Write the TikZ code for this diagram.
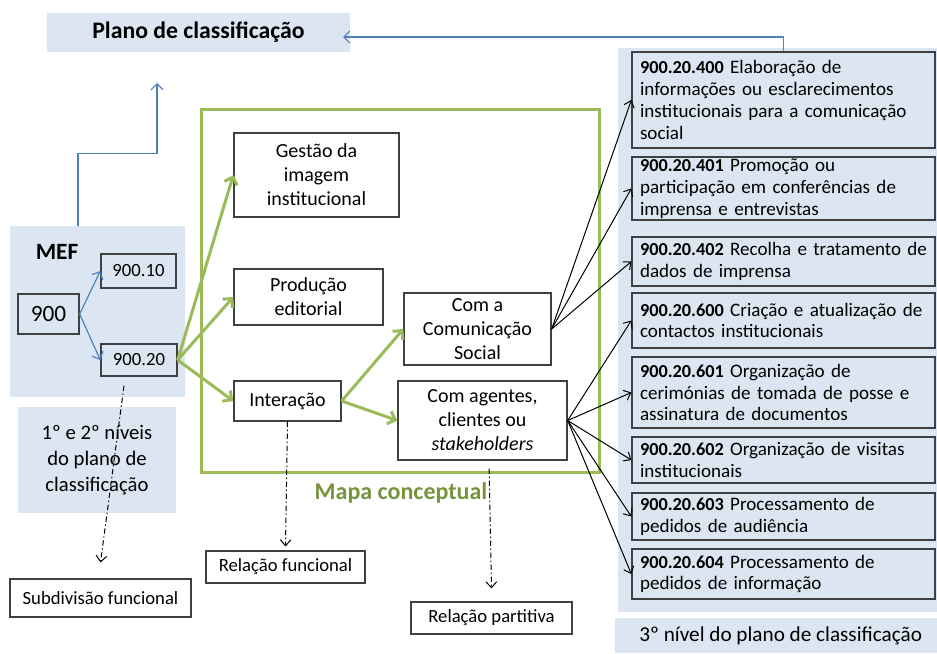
\documentclass[tikz,border=0pt]{standalone}
\usepackage{fontspec}
\setmainfont{Carlito}
\usepackage{tikz}
\usetikzlibrary{arrows.meta,calc,positioning}
\definecolor{paleblue}{HTML}{DCE6F2}
\definecolor{concgreen}{HTML}{9BBB59}
\definecolor{textgreen}{HTML}{77933C}
\definecolor{linkblue}{HTML}{4F81BD}
\definecolor{boxgray}{HTML}{404040}
\newcommand\classno[1]{{\fontsize{13.7}{16.3}\selectfont\bfseries #1}}
\tikzset{
  panel/.style={fill=paleblue, draw=none, inner sep=0pt},
  box/.style={draw=boxgray, line width=1pt, align=center, inner sep=0pt,
    font=\fontsize{15}{18}\selectfont},
  codebox/.style={draw=boxgray, line width=1pt, align=left, text width=215.25pt,
    inner xsep=6pt, inner ysep=0pt, font=\fontsize{14.3}{16.3}\selectfont},
  labelbox/.style={draw=boxgray, line width=0.8pt, inner sep=0pt,
    font=\fontsize{14}{16}\selectfont},
  greenarr/.style={draw=concgreen, line width=2.25pt, -{Straight Barb[length=5pt,width=10pt]}},
  bluearr/.style={draw=linkblue, line width=0.9pt, -{Straight Barb[length=4.5pt,width=9pt]}},
  blackarr/.style={line width=0.75pt, -{Straight Barb[length=4.5pt,width=8pt]}},
  dashdot/.style={line width=0.75pt, dash pattern=on 4pt off 2pt on 1pt off 2pt,
    -{Straight Barb[length=4.5pt,width=8pt]}},
}
\begin{document}
\begin{tikzpicture}[x=0.75pt, y=-0.75pt]
\useasboundingbox (0,0) rectangle (937,653);
% --- fundos ---
\node[panel, minimum width=227.25pt, minimum height=29.25pt,
  font=\fontsize{17.8}{20}\selectfont\bfseries] (plano) at (198.5,32.5) {Plano de classificação};
\node[panel, minimum width=131.25pt, minimum height=128.25pt] (mef) at (97.5,311.5) {};
\node[panel, minimum width=118.5pt, minimum height=79.5pt, align=center,
  font=\fontsize{15.5}{19.5}\selectfont] (niveis) at (97,460) {1º e 2º níveis\\do plano de\\classificação};
\fill[paleblue] (618,48) rectangle (937,612);
\node[panel, minimum width=241.5pt, minimum height=26.25pt,
  font=\fontsize{15.9}{18}\selectfont] (nivel3) at (776,635.5) {\hspace{7pt}3º nível do plano de classificação};

% --- MEF ---
\node[font=\fontsize{17.5}{20}\selectfont\bfseries] (meflab) at (57,252) {MEF};
\node[box, minimum width=45.75pt, minimum height=30pt, font=\fontsize{17.5}{20}\selectfont] (n900) at (48.5,314) {900};
\node[box, minimum width=56.25pt, minimum height=25.5pt, font=\fontsize{14}{16}\selectfont] (n9010) at (138.5,271) {900.10};
\node[box, minimum width=57pt, minimum height=24pt, font=\fontsize{14}{16}\selectfont] (n9020) at (139,360) {900.20};
\draw[bluearr] (n900.east) -- (n9010.west);
\draw[bluearr] (n900.east) -- (n9020.west);

% --- mapa conceptual ---
\node[draw=concgreen, line width=2.25pt, minimum width=298.5pt, minimum height=272.25pt] (frame) at (400,290.5) {};
\node[text=textgreen, font=\fontsize{18}{20}\selectfont\bfseries] (mapa) at (401,493) {Mapa conceptual};
\node[box, minimum width=123.75pt, minimum height=63pt] (gestao) at (316.5,175) {Gestão da\\imagem\\institucional};
\node[box, minimum width=111.75pt, minimum height=42pt] (producao) at (308.5,297) {Produção\\editorial};
\node[box, minimum width=80.25pt, minimum height=30pt] (interacao) at (287.5,401) {Interação};
\node[box, minimum width=110.25pt, minimum height=54pt] (comsocial) at (477.5,329) {Com a\\Comunicação\\Social};
\node[box, minimum width=126.75pt, minimum height=59.25pt] (agentes) at (482.5,420.5) {Com agentes,\\clientes ou\\\textit{stakeholders}};

% --- 3o nivel ---
\node[codebox, minimum height=72pt] (c400) at (783.5,100) {\classno{900.20.400} Elaboração de\\informações ou esclarecimentos\\institucionais para a comunicação\\social};
\node[codebox, minimum height=47.25pt] (c401) at (783.5,188.5) {\classno{900.20.401} Promoção ou\\participação em conferências de\\imprensa e entrevistas};
\node[codebox, minimum height=36.75pt] (c402) at (783.5,261.5) {\classno{900.20.402} Recolha e tratamento de\\dados de imprensa};
\node[codebox, minimum height=41.25pt] (c600) at (783.5,320.5) {\classno{900.20.600} Criação e atualização de\\contactos institucionais};
\node[codebox, minimum height=53.25pt] (c601) at (783.5,392.5) {\classno{900.20.601} Organização de\\cerimónias de tomada de posse e\\assinatura de documentos};
\node[codebox, minimum height=34.5pt] (c602) at (783.5,460) {\classno{900.20.602} Organização de visitas\\institucionais};
\node[codebox, minimum height=35.25pt] (c603) at (783.5,516.5) {\classno{900.20.603} Processamento de\\pedidos de audiência};
\node[codebox, minimum height=37.5pt] (c604) at (783.5,574) {\classno{900.20.604} Processamento de\\pedidos de informação};

% --- relacoes ---
\node[labelbox, minimum width=135.75pt, minimum height=28.5pt] (subdiv) at (100.5,598) {Subdivisão funcional};
\node[labelbox, minimum width=119.25pt, minimum height=24pt] (relfunc) at (285.5,567) {Relação funcional};
\node[labelbox, minimum width=120.75pt, minimum height=24pt] (relpart) at (491.5,618) {Relação partitiva};

% --- ligacoes ---
\coordinate (planotip) at (343,37);
\coordinate (planoup) at (157,83);
\draw[bluearr] (c400.north) |- (planotip);
\draw[bluearr] ([xshift=-14.6pt]mef.north) -- ++(0,-72) -| (planoup);
\foreach \t in {gestao,producao,interacao}
  \draw[greenarr] (n9020.east) -- (\t.west);
\draw[greenarr] (interacao.east) -- (comsocial.west);
\draw[greenarr] (interacao.east) -- (agentes.west);
\foreach \t in {c400,c401,c402}
  \draw[blackarr] (comsocial.east) -- (\t.west);
\foreach \t in {c600,c601,c602,c603,c604}
  \draw[blackarr] (agentes.east) -- (\t.west);
\draw[dashdot] ([xshift=-11.25pt,yshift=-6.75pt]n9020.south) -- ([yshift=12pt]subdiv.north);
\draw[dashdot] (interacao.south) -- ([yshift=3pt]relfunc.north);
\draw[dashdot] ([xshift=5pt,yshift=-6pt]agentes.south) -- ([yshift=9.75pt]relpart.north);
\end{tikzpicture}
\end{document}
